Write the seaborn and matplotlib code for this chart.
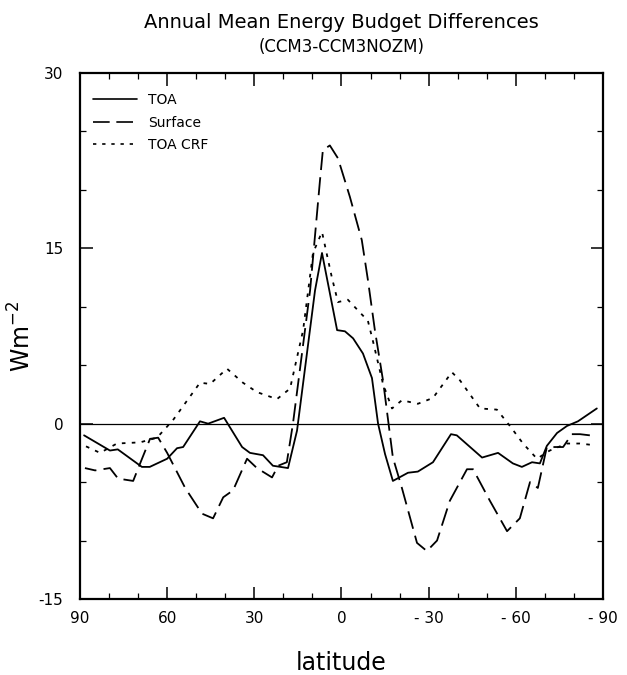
#!/usr/bin/env python
""" Annual mean energy budget differences, CCM3 minus CCM3NOZM """

import pandas as pd
import seaborn as sns
import matplotlib
matplotlib.use('Agg')
import matplotlib.pyplot as plt
from matplotlib.ticker import MultipleLocator

# Values (latitude in degrees, W m-2)
toa_lat = [88.6, 79.7, 77.0, 68.7, 66.0, 60.0, 56.6, 54.5, 48.7, 45.9, 40.4,
           34.2, 31.5, 27.0, 23.6, 18.4, 15.3, 9.1, 6.7, 1.5, -1.2, -4.0,
           -7.4, -10.5, -12.6, -15.0, -17.7, -22.9, -26.3, -31.5, -37.7,
           -39.7, -48.4, -53.9, -59.0, -62.1, -65.6, -68.3, -70.7, -74.2,
           -77.6, -81.4, -87.9]
toa_val = [-1.0, -2.3, -2.2, -3.7, -3.7, -3.0, -2.1, -2.0, 0.2, 0.0, 0.5,
           -2.0, -2.5, -2.7, -3.6, -3.8, -0.6, 11.4, 14.6, 8.0, 7.9, 7.3,
           6.0, 3.9, 0.0, -2.6, -4.9, -4.2, -4.1, -3.3, -0.9,
           -1.0, -2.9, -2.5, -3.4, -3.7, -3.3, -3.4, -1.9, -0.8,
           -0.2, 0.2, 1.3]

sfc_lat = [88.3, 84.8, 79.7, 76.9, 71.7, 69.3, 65.9, 63.1, 60.0, 53.8, 48.0,
           44.2, 40.7, 37.3, 32.5, 29.1, 23.9, 21.8, 18.8, 16.7, 10.8, 7.4,
           6.4, 4.0, 1.2, -2.9, -7.0, -9.1, -11.5, -14.3, -17.7, -20.8,
           -26.0, -29.4, -32.9, -37.3, -43.2, -45.3, -51.1, -57.0, -61.4,
           -64.9, -67.6, -70.7, -72.8, -76.3, -79.3, -82.1, -85.5]
sfc_val = [-3.8, -4.0, -3.8, -4.7, -4.9, -3.4, -1.3, -1.2, -2.5, -5.5, -7.7,
           -8.1, -6.3, -5.7, -3.0, -3.8, -4.6, -3.6, -3.3, 0.0, 11.4, 20.8,
           23.4, 23.8, 22.7, 19.4, 15.7, 12.3, 8.0, 3.7, -2.9, -5.5,
           -10.2, -10.9, -10.0, -6.6, -3.9, -3.9, -6.6, -9.2, -8.1,
           -5.0, -5.5, -2.0, -2.0, -2.0, -0.9, -0.9, -1.0]

crf_lat = [88.3, 83.1, 77.3, 69.3, 63.5, 58.0, 48.7, 45.2, 39.4, 33.9, 29.1,
           22.2, 17.7, 13.2, 9.8, 6.7, 3.3, 1.2, -2.2, -6.4, -9.1, -10.8,
           -14.3, -17.4, -20.8, -26.3, -31.5, -38.0, -40.8, -47.7, -53.5,
           -58.0, -62.5, -67.3, -71.7, -77.6, -82.1, -85.5]
crf_val = [-1.9, -2.5, -1.7, -1.6, -1.2, 0.3, 3.5, 3.4, 4.7, 3.5, 2.7,
           2.1, 3.0, 8.0, 14.6, 16.4, 12.5, 10.4, 10.6, 9.5, 8.8, 7.1,
           3.4, 1.3, 2.0, 1.7, 2.2, 4.4, 3.7, 1.3, 1.2,
           -0.2, -1.7, -3.0, -2.3, -1.7, -1.7, -1.8]

series_names = ['TOA', 'Surface', 'TOA CRF']
x_ticks = [90, 60, 30, 0, -30, -60, -90]
y_ticks = [30, 15, 0, -15]


def main():
    """ Main function """

    sns.set_style("ticks")
    plt.rcParams['font.family'] = ['DejaVu Sans']
    for key in ['text.color', 'axes.labelcolor', 'xtick.color',
                'ytick.color', 'axes.edgecolor']:
        plt.rcParams[key] = 'black'

    f = plt.figure(figsize=(6.27, 6.75), dpi=100)
    ax = f.add_axes([0.1276, 0.1126, 0.834, 0.7793])

    # zero line
    ax.axhline(0, color='black', lw=0.9, zorder=1)

    data = [(toa_lat, toa_val, None),
            (sfc_lat, sfc_val, (10, 4)),
            (crf_lat, crf_val, (2, 3.5))]
    for name, (lat, val, dash) in zip(series_names, data):
        kw = dict(x=lat, y=val, ax=ax, color='black', lw=1.3, label=name)
        if dash is not None:
            kw['dashes'] = dash
        sns.lineplot(**kw)

    ax.set_xlim(90, -90)
    ax.set_ylim(-15, 30)
    ax.set_xticks(x_ticks)
    ax.set_xticklabels([str(t).replace('-', '- ') for t in x_ticks])
    ax.set_yticks(y_ticks)
    ax.set_yticklabels([str(t) for t in y_ticks])
    ax.xaxis.set_minor_locator(MultipleLocator(10))
    ax.yaxis.set_minor_locator(MultipleLocator(5))
    ax.tick_params(which='both', direction='in', top=True, right=True,
                   labelsize=11, color='black', labelcolor='black')
    ax.tick_params(which='major', length=9, width=1.1)
    ax.tick_params(which='minor', length=4, width=0.9)
    ax.tick_params(axis='x', pad=9)
    ax.tick_params(axis='y', pad=12)
    for s in ax.spines.values():
        s.set_linewidth(1.6)
        s.set_color('black')

    ax.set_xlabel('latitude', fontsize=17, labelpad=18)
    ax.set_ylabel('Wm$^{-2}$', fontsize=17, labelpad=2)

    f.text(0.545, 0.967, 'Annual Mean Energy Budget Differences',
           ha='center', va='center', fontsize=14)
    f.text(0.545, 0.930, '(CCM3-CCM3NOZM)', ha='center', va='center',
           fontsize=12)

    leg = ax.legend(loc='upper left', frameon=False, fontsize=10,
                    handlelength=3.2, labelspacing=0.6,
                    bbox_to_anchor=(0.0, 0.985))
    for line in leg.get_lines():
        line.set_linewidth(1.2)

    f.savefig('out.png', dpi=100)
    plt.close(f)


if __name__ == '__main__':
    main()
